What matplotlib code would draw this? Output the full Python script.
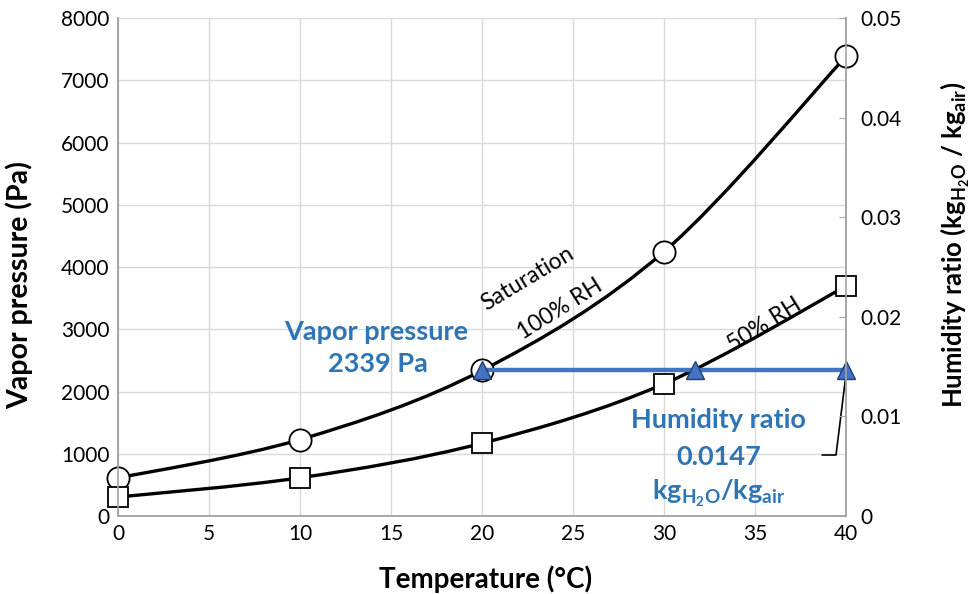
import numpy as np
import matplotlib
matplotlib.use("Agg")
import matplotlib.pyplot as plt
from matplotlib.path import Path
from matplotlib.patches import PathPatch

plt.rcParams['font.family'] = ['Lato', 'DejaVu Sans']
plt.rcParams['mathtext.fontset'] = 'custom'
plt.rcParams['mathtext.rm'] = 'Lato'
plt.rcParams['mathtext.bf'] = 'Lato:bold'

# Data
temps = [0, 10, 20, 30, 40]
p_sat = [611, 1228, 2339, 4246, 7384]
p_50 = [305, 614, 1169, 2123, 3692]
vp_temps = [20, 31.7, 40]
vp_value = [2339, 2339, 2339]

BLUE = '#4472C4'
TXT_BLUE = '#2E75B6'


def smooth_path(xs, ys):
    # Excel-like smoothed line: Catmull-Rom converted to cubic Bezier segments
    pts = np.column_stack([xs, ys]).astype(float)
    ext = np.vstack([pts[0], pts, pts[-1]])
    verts = [pts[0]]
    codes = [Path.MOVETO]
    for i in range(1, len(ext) - 2):
        p0, p1, p2, p3 = ext[i - 1], ext[i], ext[i + 1], ext[i + 2]
        verts += [p1 + (p2 - p0) / 6, p2 - (p3 - p1) / 6, p2]
        codes += [Path.CURVE4] * 3
    return Path(verts, codes)


fig = plt.figure(figsize=(9.72, 5.94), dpi=100)
ax = fig.add_axes([0.1214, 0.1313, 0.749, 0.8384])
ax2 = ax.twinx()

ax.set_xlim(0, 40)
ax.set_ylim(0, 8000)
ax2.set_ylim(0, 0.05)

ax.set_xticks(range(0, 41, 5))
ax.set_yticks(range(0, 8001, 1000))
ax2.set_yticks([0, 0.01, 0.02, 0.03, 0.04, 0.05])
ax2.set_yticklabels(['0', '0.01', '0.02', '0.03', '0.04', '0.05'])

ax.grid(True, color='#d9d9d9', linewidth=1.0)
ax.set_axisbelow(True)
for a in (ax, ax2):
    a.spines['top'].set_visible(False)
    for s in ('left', 'right', 'bottom'):
        a.spines[s].set_color('#a6a6a6')
        a.spines[s].set_linewidth(1.2)
ax.tick_params(axis='both', length=0, labelsize=15, colors='black', pad=6)
ax2.tick_params(axis='y', length=5, direction='in', color='#a6a6a6', labelsize=15, pad=10)

# Smoothed curves
for ys in (p_sat, p_50):
    ax.add_patch(PathPatch(smooth_path(temps, ys), fill=False, edgecolor='black',
                           linewidth=2.4, zorder=3, clip_on=False))

ax.plot(temps, p_sat, linestyle='none', marker='o', markersize=16, markerfacecolor='white',
        markeredgecolor='black', markeredgewidth=1.3, zorder=4, clip_on=False)
ax.plot(temps, p_50, linestyle='none', marker='s', markersize=15, markerfacecolor='white',
        markeredgecolor='black', markeredgewidth=1.3, zorder=4, clip_on=False)

# Vapor pressure line with triangles
ax.plot(vp_temps, vp_value, color=BLUE, linewidth=3.2, marker='^', markersize=13,
        markerfacecolor=BLUE, markeredgecolor='#1f3f73', markeredgewidth=1.0, zorder=5,
        clip_on=False)

# Leader line for humidity ratio annotation
ax.plot([38.7, 39.45, 40], [980, 980, 2280], color='black', linewidth=1.2, zorder=4)

# Curve labels
ax.text(22.5, 3820, 'Saturation', rotation=31, ha='center', va='center', fontsize=16.5)
ax.text(24.3, 3330, '100% RH', rotation=32, ha='center', va='center', fontsize=16.5)
ax.text(35.5, 3080, '50% RH', rotation=32, ha='center', va='center', fontsize=16.5)

ax.text(14.2, 2960, 'Vapor pressure', ha='center', va='center', fontsize=19.5,
        fontweight='bold', color=TXT_BLUE)
ax.text(14.3, 2440, '2339 Pa', ha='center', va='center', fontsize=19.5,
        fontweight='bold', color=TXT_BLUE)
ax.text(33.0, 1550, 'Humidity ratio', ha='center', va='center', fontsize=19.5,
        fontweight='bold', color=TXT_BLUE)
ax.text(33.0, 950, '0.0147', ha='center', va='center', fontsize=19.5,
        fontweight='bold', color=TXT_BLUE)
ax.text(33.0, 370, r'kg$_{\mathbf{H_2O}}$/kg$_{\mathbf{air}}$', ha='center', va='center',
        fontsize=19.5, fontweight='bold', color=TXT_BLUE)

ax.set_xlabel('Temperature (°C)', fontsize=20, fontweight='bold')
ax.set_ylabel('Vapor pressure (Pa)', fontsize=20.5, fontweight='bold')
ax2.set_ylabel(r'Humidity ratio (kg$_{\mathbf{H_2O}}$ / kg$_{\mathbf{air}}$)', fontsize=18.5,
               fontweight='bold')
ax.xaxis.set_label_coords(0.505, -0.1)
ax.yaxis.set_label_coords(-0.117, 0.464)
ax2.yaxis.set_label_coords(1.127, 0.544)

fig.savefig('out.png', dpi=100)
